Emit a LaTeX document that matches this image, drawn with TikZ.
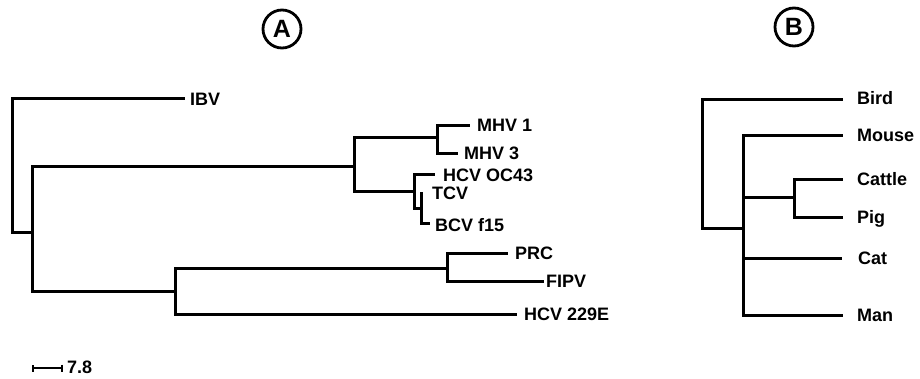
\documentclass[tikz,border=0pt]{standalone}
\usepackage{fontspec}
\setmainfont{Liberation Sans}
\usetikzlibrary{arrows.meta}
\begin{document}
\begin{tikzpicture}[x=1pt,y=-1pt,
  branch/.style={line width=3pt,line cap=rect,line join=miter},
  leaf/.style={anchor=west,inner sep=0pt,text height=12.9pt,text depth=0pt,
    font=\bfseries\fontsize{18}{18}\selectfont},
  panel/.style={circle,draw,line width=2.8pt,minimum size=38pt,inner sep=0pt,
    font=\bfseries\fontsize{25}{25}\selectfont}]
\path[use as bounding box,fill=white] (0,0) rectangle (920,378);

% panel letters
\node[panel] (pA) at (282,29) {A};
\node[panel] (pB) at (794,27) {B};

% ---- tree A ----
\coordinate (rA) at (12,232);
\coordinate (n2) at (32,232);
\coordinate (n3) at (354,166);
\coordinate (n4) at (437,137);
\coordinate (n5) at (414,191);
\coordinate (n7) at (421,208);
\coordinate (n6) at (175,291);
\coordinate (n8) at (447,268);
\coordinate (tIBV) at (183,98);
\coordinate (tMHV1) at (468,125);
\coordinate (tMHV3) at (456,153);
\coordinate (tOC) at (433,174);
\coordinate (tTCV) at (421,193);
\coordinate (tBCV) at (428,223);
\coordinate (tPRC) at (506,253);
\coordinate (tFIPV) at (542,281);
\coordinate (tHCV) at (515,314);

\node[leaf] (lIBV) at (190,99) {IBV};
\node[leaf] (lMHV1) at (477,125) {MHV 1};
\node[leaf] (lMHV3) at (464,153) {MHV 3};
\node[leaf] (lOC) at (443,175) {HCV OC43};
\node[leaf] (lTCV) at (432,193) {TCV};
\node[leaf] (lBCV) at (435,225) {BCV f15};
\node[leaf] (lPRC) at (515,253) {PRC};
\node[leaf] (lFIPV) at (546,281) {FIPV};
\node[leaf] (lHCV) at (524,314) {HCV 229E};

\draw[branch] (rA) |- (tIBV);
\draw[branch] (rA) -- (n2);
\draw[branch] (n2) |- (n3);
\draw[branch] (n2) |- (n6);
\draw[branch] (n3) |- (n4);
\draw[branch] (n3) |- (n5);
\draw[branch] (n4) |- (tMHV1);
\draw[branch] (n4) |- (tMHV3);
\draw[branch] (n5) |- (tOC);
\draw[branch] (n5) |- (n7);
\draw[branch] (n7) -- (tTCV);
\draw[branch] (n7) |- (tBCV);
\draw[branch] (n6) |- (n8);
\draw[branch] (n6) |- (tHCV);
\draw[branch] (n8) |- (tPRC);
\draw[branch] (n8) |- (tFIPV);

% scale bar
\coordinate (sb1) at (32,368);
\coordinate (sb2) at (63,368);
\draw[line width=2.6pt,{Bar[width=7pt,line width=1.8pt]}-{Bar[width=7pt,line width=1.8pt]}] (sb1) -- (sb2);
\node[anchor=west,inner sep=0pt,text height=12pt,text depth=0pt,
  font=\bfseries\fontsize{18}{18}\selectfont] (sbl) at (67,367) {7.8};

% ---- tree B ----
\coordinate (rB) at (702,228);
\coordinate (m2) at (743,228);
\coordinate (m3) at (794,197);
\coordinate (tBird) at (841,99);
\coordinate (tMouse) at (841,135);
\coordinate (tCattle) at (841,179);
\coordinate (tPig) at (841,217);
\coordinate (tCat) at (840,258);
\coordinate (tMan) at (841,315);

\node[leaf] (lBird) at (857,98) {Bird};
\node[leaf] (lMouse) at (857,135) {Mouse};
\node[leaf] (lCattle) at (857,179) {Cattle};
\node[leaf] (lPig) at (857,217) {Pig};
\node[leaf] (lCat) at (858,258) {Cat};
\node[leaf] (lMan) at (857,315) {Man};

\draw[branch] (rB) |- (tBird);
\draw[branch] (rB) -- (m2);
\draw[branch] (m2) |- (tMouse);
\draw[branch] (m2) |- (m3);
\draw[branch] (m2) |- (tCat);
\draw[branch] (m2) |- (tMan);
\draw[branch] (m3) |- (tCattle);
\draw[branch] (m3) |- (tPig);
\end{tikzpicture}
\end{document}
